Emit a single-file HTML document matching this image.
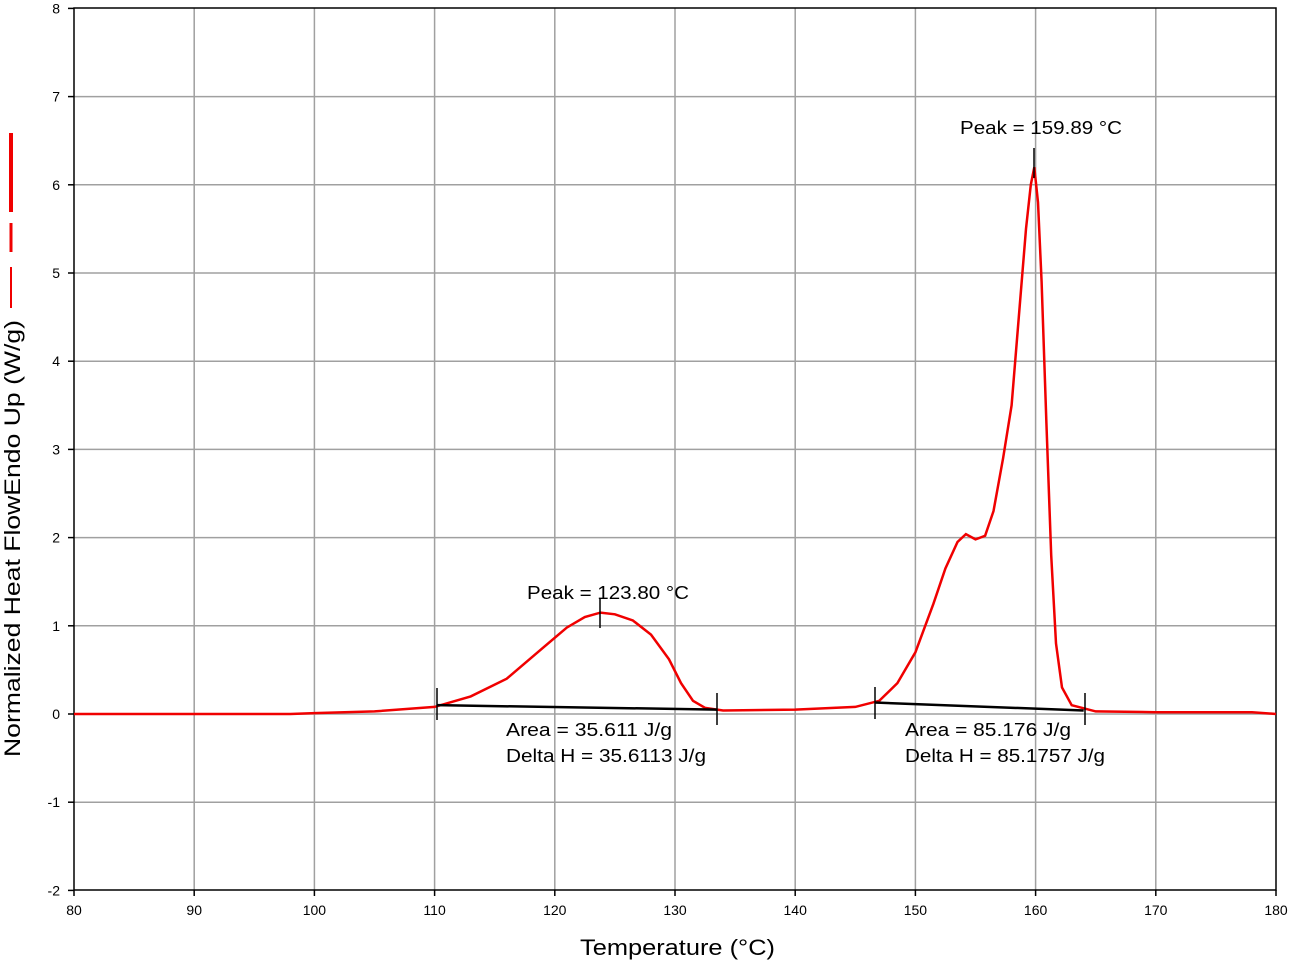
<!DOCTYPE html>
<html><head><meta charset="utf-8"><style>
body{margin:0;background:#fff;}
svg{display:block;font-family:"Liberation Sans",Arial,sans-serif;}
</style></head><body>
<svg id="s" width="1291" height="963" viewBox="0 0 1291 963" xmlns="http://www.w3.org/2000/svg">
<rect width="1291" height="963" fill="#fff"/>
<g id="grid" stroke="#a0a0a0" stroke-width="1.5"></g>
<rect x="74" y="8" width="1202" height="882" fill="none" stroke="#000" stroke-width="1.5"/>
<g id="tk" stroke="#000" stroke-width="1.5"></g>
<g id="ticks" font-size="14" fill="#000"></g>
<path id="curve" fill="none" stroke="#f00000" stroke-width="2.5"/>
<g id="base" stroke="#000" stroke-width="2.5" fill="none"></g>
<g id="marks" stroke="#000" stroke-width="1.5"></g>
<g font-size="18" fill="#000">
<text x="960" y="134" textLength="162" lengthAdjust="spacingAndGlyphs">Peak = 159.89 °C</text>
<text x="527" y="599" textLength="162" lengthAdjust="spacingAndGlyphs">Peak = 123.80 °C</text>
<text x="506" y="736" textLength="166" lengthAdjust="spacingAndGlyphs">Area = 35.611 J/g</text>
<text x="506" y="762" textLength="200" lengthAdjust="spacingAndGlyphs">Delta H = 35.6113 J/g</text>
<text x="905" y="736" textLength="166" lengthAdjust="spacingAndGlyphs">Area = 85.176 J/g</text>
<text x="905" y="762" textLength="200" lengthAdjust="spacingAndGlyphs">Delta H = 85.1757 J/g</text>
</g>
<text x="580" y="955" font-size="22" textLength="195" lengthAdjust="spacingAndGlyphs">Temperature (°C)</text>
<text transform="translate(20,757) rotate(-90)" font-size="22" textLength="437" lengthAdjust="spacingAndGlyphs">Normalized Heat FlowEndo Up (W/g)</text>
<line x1="11" y1="133" x2="11" y2="212" stroke="#f00000" stroke-width="4"/>
<line x1="11" y1="223" x2="11" y2="252" stroke="#f00000" stroke-width="3"/>
<line x1="11" y1="267" x2="11" y2="308" stroke="#f00000" stroke-width="2"/>
</svg>
<script>
const X=t=>74+(t-80)*12.02, Y=v=>714-v*88.2;
const ns="http://www.w3.org/2000/svg";
function el(p,tag,a,txt){const e=document.createElementNS(ns,tag);for(const k in a)e.setAttribute(k,a[k]);if(txt!=null)e.textContent=txt;document.getElementById(p).appendChild(e);}
for(let t=90;t<180;t+=10)el('grid','line',{x1:X(t),x2:X(t),y1:8,y2:890});
for(let v=-1;v<8;v++)el('grid','line',{x1:74,x2:1276,y1:Y(v),y2:Y(v)});
for(let t=80;t<=180;t+=10){el('ticks','text',{x:X(t),y:915,'text-anchor':'middle'},t);el('tk','line',{x1:X(t),x2:X(t),y1:890,y2:896});}
for(let v=-2;v<=8;v++){el('ticks','text',{x:60,y:Y(v)+5,'text-anchor':'end'},v);el('tk','line',{x1:68,x2:74,y1:Y(v),y2:Y(v)});}
const P=[[80,0],[98,0],[100,0.01],[105,0.03],[110,0.08],[113,0.2],[116,0.4],[119,0.75],[121,0.98],[122.5,1.1],[123.8,1.15],[125,1.13],[126.5,1.06],[128,0.9],[129.5,0.62],[130.5,0.35],[131.5,0.15],[132.5,0.07],[134,0.04],[140,0.05],[145,0.08],[147,0.15],[148.5,0.35],[150,0.7],[151.5,1.25],[152.5,1.65],[153.5,1.95],[154.2,2.04],[155,1.98],[155.8,2.02],[156.5,2.3],[157.3,2.9],[158,3.5],[158.6,4.5],[159.2,5.5],[159.6,6.0],[159.89,6.2],[160.2,5.8],[160.5,4.9],[160.9,3.3],[161.3,1.8],[161.7,0.8],[162.2,0.3],[163,0.1],[165,0.03],[170,0.02],[178,0.02],[180,0]];
document.getElementById('curve').setAttribute('d','M'+P.map(p=>X(p[0]).toFixed(1)+','+Y(p[1]).toFixed(1)).join(' L'));
el('base','line',{x1:X(110.2),y1:Y(0.1),x2:X(133.5),y2:Y(0.05)});
el('base','line',{x1:X(146.6),y1:Y(0.13),x2:X(164),y2:Y(0.04)});
[[437,688,720],[717,693,725],[875,687,719],[1085,693,725],[600,598,628],[1034,148,178]].forEach(a=>el('marks','line',{x1:a[0],x2:a[0],y1:a[1],y2:a[2]}));
</script>
</body></html>
